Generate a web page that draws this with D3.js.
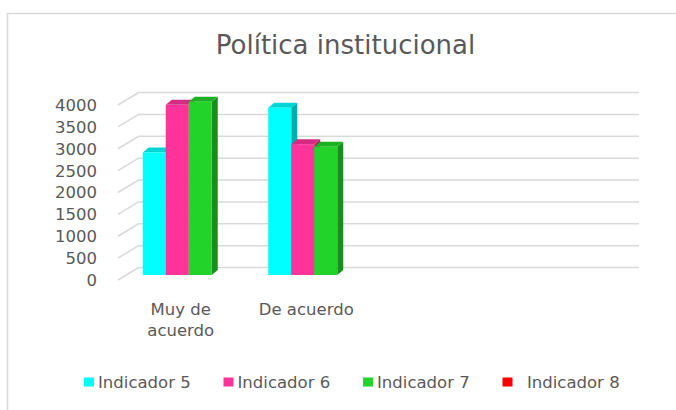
<!DOCTYPE html>
<html>
<head>
<meta charset="utf-8">
<script src="https://cdn.jsdelivr.net/npm/d3@7"></script>
<style>
  body { margin: 0; background: #fff; }
  text { font-family: "DejaVu Sans", sans-serif; fill: #595959; }
</style>
</head>
<body>
<div id="chart"></div>
<script>
// data
var categories = ["Muy de acuerdo", "De acuerdo", "", ""];
var seriesNames = ["Indicador 5", "Indicador 6", "Indicador 7", "  Indicador 8"];
var indicador5 = [2800, 3825, null, null];
var indicador6 = [3890, 2990, null, null];
var indicador7 = [3960, 2930, null, null];
var indicador8 = [null, null, null, null];
var yTicks = [0, 500, 1000, 1500, 2000, 2500, 3000, 3500, 4000];

var seriesValues = [indicador5, indicador6, indicador7, indicador8];
var colors = ["#00ffff", "#ff3399", "#22d42a", "#ff0000"];

var width = 676,
    height = 410;

// 3d offsets: back wall, and the plane the bars sit on
var wallDx = 20.5, wallDy = -12.5;
var barDx = 8, barDy = -5;
var depthDx = 6, depthDy = -5;

var svg = d3.select("#chart").append("svg")
  .attr("width", width)
  .attr("height", height);

svg.append("rect")
  .attr("x", 7.5).attr("y", 13.5)
  .attr("width", 700).attr("height", 420)
  .attr("fill", "none")
  .attr("stroke", "#d9d9d9")
  .attr("stroke-width", 1.5);

svg.append("text")
  .attr("x", 345.5).attr("y", 54)
  .attr("text-anchor", "middle")
  .style("font-size", "26px")
  .text("Política institucional");

var x = d3.scaleBand()
  .domain(d3.range(categories.length))
  .range([118, 620]);

var x1 = d3.scaleBand()
  .domain(d3.range(seriesNames.length))
  .range([0, 92]);

var y = d3.scaleLinear()
  .domain([0, 4000])
  .range([280, 105]);

// gridlines: floor/side diagonal then back wall
var grid = svg.append("g");
yTicks.forEach(function(t) {
  var yy = y(t);
  grid.append("path")
    .attr("d", "M118," + yy + "L" + (118 + wallDx) + "," + (yy + wallDy) + "L639," + (yy + wallDy))
    .attr("fill", "none")
    .attr("stroke", "#d9d9d9")
    .attr("stroke-width", 1.5);
});

svg.append("g").selectAll("text")
  .data(yTicks)
  .enter().append("text")
  .attr("x", 97)
  .attr("y", function(d) { return y(d); })
  .attr("dy", "0.36em")
  .attr("text-anchor", "end")
  .style("font-size", "16.5px")
  .text(function(d) { return d; });

// bars
var bars = [];
seriesValues.forEach(function(vals, s) {
  vals.forEach(function(v, c) {
    if (v != null) bars.push({ s: s, c: c, v: v });
  });
});

var barW = x1.bandwidth();
var groupPad = (x.bandwidth() - 92) / 2;

var bg = svg.append("g").selectAll("g")
  .data(bars)
  .enter().append("g");

function bx(d) { return x(d.c) + groupPad + x1(d.s) + barDx; }
function by(d) { return y(d.v) + barDy; }
var base = y(0) + barDy;

bg.append("path")
  .attr("d", function(d) {
    var x0 = bx(d) + barW, y0 = by(d);
    return "M" + x0 + "," + y0 + "L" + (x0 + depthDx) + "," + (y0 + depthDy) +
      "L" + (x0 + depthDx) + "," + (base + depthDy) + "L" + x0 + "," + base + "Z";
  })
  .attr("fill", function(d) { return d3.color(colors[d.s]).darker(1.1); });

bg.append("path")
  .attr("d", function(d) {
    var x0 = bx(d), y0 = by(d);
    return "M" + x0 + "," + y0 + "L" + (x0 + depthDx) + "," + (y0 + depthDy) +
      "L" + (x0 + barW + depthDx) + "," + (y0 + depthDy) + "L" + (x0 + barW) + "," + y0 + "Z";
  })
  .attr("fill", function(d) { return d3.color(colors[d.s]).darker(0.5); });

bg.append("rect")
  .attr("x", bx)
  .attr("y", by)
  .attr("width", barW)
  .attr("height", function(d) { return base - by(d); })
  .attr("fill", function(d) { return colors[d.s]; });

// category labels, wrapped
var catText = svg.append("g").selectAll("text")
  .data(categories)
  .enter().append("text")
  .attr("x", function(d, i) { return x(i) + x.bandwidth() / 2; })
  .attr("y", 314.5)
  .attr("text-anchor", "middle")
  .style("font-size", "16.5px")
  .text(function(d) { return d; });

catText.each(function(d) {
  var t = d3.select(this);
  if (this.getComputedTextLength() <= 110) return;
  var words = d.split(" "), lines = [], line = [];
  t.text(null);
  words.forEach(function(w) {
    line.push(w);
    t.text(line.join(" "));
    if (t.node().getComputedTextLength() > 110 && line.length > 1) {
      line.pop();
      lines.push(line.join(" "));
      line = [w];
    }
  });
  lines.push(line.join(" "));
  var cx = t.attr("x");
  t.text(null);
  lines.forEach(function(l, i) {
    t.append("tspan").attr("x", cx).attr("dy", i ? 21 : 0).text(l);
  });
});

// legend
var leg = svg.append("g").selectAll("g")
  .data(seriesNames)
  .enter().append("g")
  .attr("transform", function(d, i) { return "translate(" + (84 + i * 139.5) + ",0)"; });

leg.append("rect")
  .attr("x", 0).attr("y", 377.5)
  .attr("width", 10).attr("height", 9)
  .attr("fill", function(d, i) { return colors[i]; });

leg.append("text")
  .attr("x", 14).attr("y", 387.5)
  .style("font-size", "16.5px")
  .style("white-space", "pre")
  .text(function(d) { return d; });
</script>
</body>
</html>
